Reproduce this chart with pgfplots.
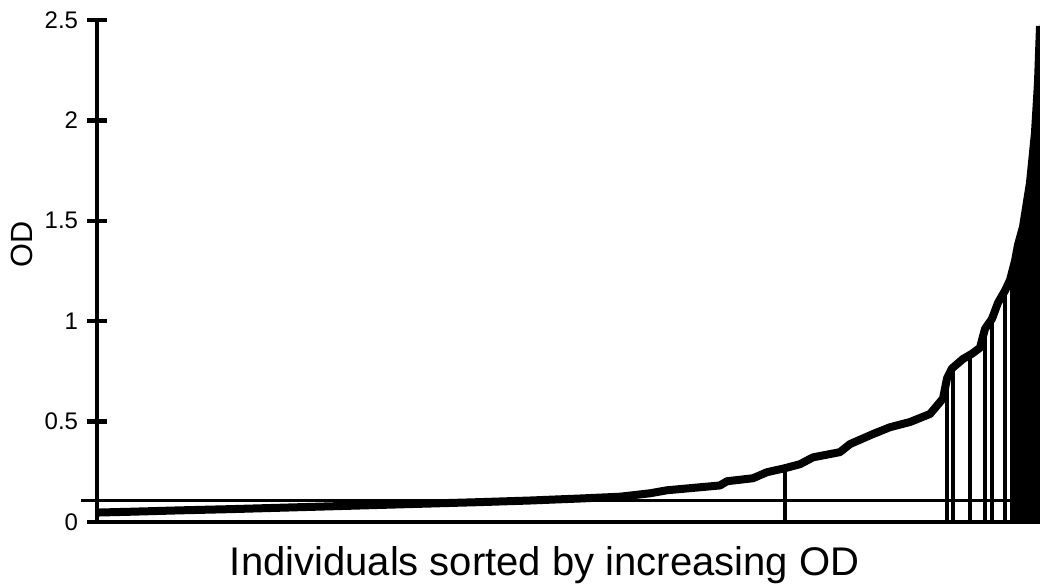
\documentclass[border=0pt]{standalone}
\usepackage{pgfplots}
\pgfplotsset{compat=1.18}
\usepackage{fontspec}
\setmainfont{Liberation Sans}

\begin{document}
\begin{tikzpicture}
    \begin{axis}[
        name=ax,
        scale only axis,
        width=707.25pt, height=376.5pt,
        xmin=0, xmax=943,
        ymin=0, ymax=2.5,
        enlargelimits=false,
        clip=false,
        axis x line=bottom, axis y line=left,
        axis line style={line width=3.4pt,-},
        xtick=\empty,
        ytick={0,0.5,1,1.5,2,2.5},
        yticklabels={0,0.5,1,1.5,2,2.5},
        tick align=center,
        major tick length=14.5pt,
        every tick/.style={black,line width=3.2pt},
        /pgf/number format/assume math mode=true,
        tick label style={font=\fontsize{18}{20}\selectfont},
        yticklabel style={anchor=east,inner sep=0pt,xshift=-6.75pt},
        xlabel={Individuals sorted by increasing OD},
        xlabel style={font=\fontsize{30}{34}\selectfont,
            at={(axis description cs:0.4746,-0.1056)},anchor=base},
        ylabel={\fontsize{23}{26}\selectfont OD},
        ylabel style={at={(axis description cs:-0.0795,0.553)},anchor=center},
    ]
        % cut-off line
        \addplot[black,line width=2pt] coordinates {(-16,0.106) (943,0.106)};
        % dense block of individuals at the top end
        \addplot[black,fill=black,draw=none] coordinates {
            (913,0) (913,1.205) (918,1.300) (921,1.380) (926,1.470)
            (933,1.690) (938,1.940) (941,2.190) (943,2.480) (943,0)
        } \closedcycle;
        % sorted OD values
        \addplot[black,line width=6pt,line join=round] coordinates {
            (0,0.047) (33,0.051) (83,0.058) (133,0.064) (183,0.071)
            (233,0.078) (283,0.085) (333,0.092) (383,0.099) (433,0.107)
            (483,0.117) (523,0.126) (553,0.143) (570,0.158) (603,0.173)
            (623,0.182) (630,0.203) (656,0.218) (670,0.248) (688,0.268)
            (703,0.288) (716,0.322) (743,0.348) (753,0.388) (776,0.438)
            (793,0.472) (813,0.498) (833,0.538) (846,0.615) (850,0.715)
            (855,0.765) (866,0.812) (875,0.838) (883,0.868) (888,0.962)
            (895,1.012) (901,1.092) (908,1.152) (913,1.205) (918,1.300)
            (921,1.380) (926,1.470) (933,1.690) (938,1.940) (941,2.190)
            (943,2.470)
        };
        % drop lines
        \addplot[black,ycomb,line width=3.4pt] coordinates {
            (688,0.268) (850,0.715) (856,0.770) (873,0.832)
            (888,0.962) (895,1.012) (908,1.152)
        };
    \end{axis}
    \pgfresetboundingbox
    \path[use as bounding box] ([xshift=-72.75pt,yshift=-48pt]ax.south west)
        rectangle ([yshift=15pt]ax.north east);
\end{tikzpicture}
\end{document}
